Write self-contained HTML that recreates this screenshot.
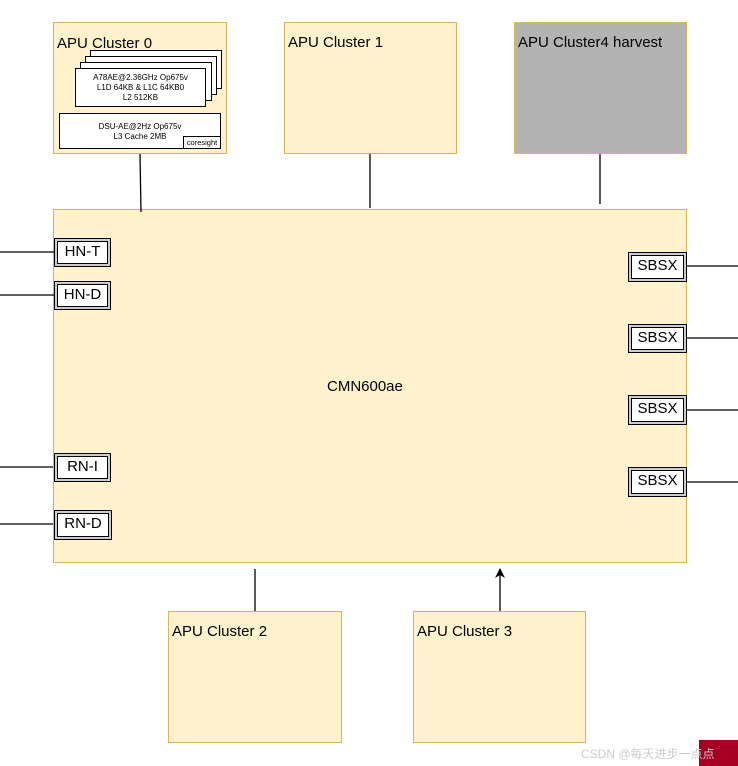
<!DOCTYPE html>
<html><head><meta charset="utf-8"><style>
body{margin:0;width:738px;height:766px;background:#fff;position:relative;overflow:hidden;font-family:"Liberation Sans",sans-serif}
.a{position:absolute;box-sizing:border-box}
.c{background:#fff2cc;border:1px solid #d6b656}
.t{font-size:15px;color:#000;position:absolute;left:3px;top:11px;white-space:nowrap}
.card{position:absolute;box-sizing:border-box;background:#fff;border:1px solid #000;font-size:8px;text-align:center;line-height:10px}
.d{position:absolute;box-sizing:border-box;border:1px solid #000;background:#ccc;padding:2px}
.d div{width:100%;height:100%;box-sizing:border-box;border:1px solid #000;background:#fff;font-size:15px;text-align:center;line-height:20px}
</style></head><body>
<div class="a c" style="left:53px;top:22px;width:174px;height:132px">
<span class="t" style="top:12px">APU Cluster 0</span></div>
<div class="card" style="left:90px;top:50px;width:132px;height:39px"></div>
<div class="card" style="left:85px;top:56px;width:132px;height:39px"></div>
<div class="card" style="left:80px;top:62px;width:132px;height:39px"></div>
<div class="card" style="left:75px;top:68px;width:131px;height:39px;padding-top:4px">A78AE@2.36GHz Op675v<br>L1D 64KB &amp; L1C 64KB0<br>L2 512KB</div>
<div class="card" style="left:59px;top:113px;width:162px;height:36px;padding-top:8px">DSU-AE@2Hz Op675v<br>L3 Cache 2MB</div>
<div class="card" style="left:183px;top:136px;width:38px;height:13px;font-size:7.5px;line-height:11px">coresight</div>
<div class="a c" style="left:284px;top:22px;width:173px;height:132px"><span class="t">APU Cluster 1</span></div>
<div class="a" style="left:514px;top:22px;width:173px;height:132px;background:#b3b3b3;border:1px solid #d6b656"><span class="t">APU Cluster4 harvest</span></div>
<div class="a c" style="left:53px;top:209px;width:634px;height:354px"><span style="position:absolute;left:273px;top:168px;font-size:15px">CMN600ae</span></div>
<div class="a c" style="left:168px;top:611px;width:174px;height:132px"><span class="t">APU Cluster 2</span></div>
<div class="a c" style="left:413px;top:611px;width:173px;height:132px"><span class="t">APU Cluster 3</span></div>
<div class="d" style="left:54px;top:238px;width:57px;height:29px"><div>HN-T</div></div>
<div class="d" style="left:54px;top:281px;width:57px;height:29px"><div>HN-D</div></div>
<div class="d" style="left:54px;top:453px;width:57px;height:29px"><div>RN-I</div></div>
<div class="d" style="left:54px;top:510px;width:58px;height:30px"><div>RN-D</div></div>
<div class="d" style="left:628px;top:252px;width:59px;height:30px"><div>SBSX</div></div>
<div class="d" style="left:628px;top:324px;width:59px;height:29px"><div>SBSX</div></div>
<div class="d" style="left:628px;top:395px;width:59px;height:30px"><div>SBSX</div></div>
<div class="d" style="left:628px;top:467px;width:59px;height:30px"><div>SBSX</div></div>
<svg class="a" style="left:0;top:0" width="738" height="766">
<defs><marker id="m" markerWidth="10" markerHeight="10" refX="9" refY="5" orient="auto" markerUnits="userSpaceOnUse"><path d="M0,0 L10,5 L0,10 L3,5z" fill="#000"/></marker></defs>
<g stroke="#000" stroke-width="1.3" fill="none">
<path d="M0 252H54M0 295H54M687 266H738M687 338H738M687 410H738M687 482H738"/>
<path d="M0 467H53M0 524H53M140 154L141 212M370 154V208M600 154V204M255 611V569M500 611V569" marker-end="url(#m)"/>
</g></svg>
<div class="a" style="left:699px;top:740px;width:39px;height:26px;background:#a50021"></div>
<div class="a" style="left:581px;top:745px;font-size:12px;color:#ccc;font-family:'Liberation Sans','Noto Sans CJK SC',sans-serif;white-space:nowrap">CSDN @每天进步一点点</div>
</body></html>
